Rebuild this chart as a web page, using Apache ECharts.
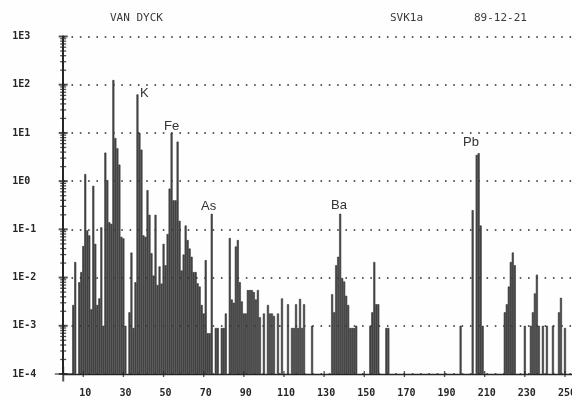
<!DOCTYPE html>
<html>
<head>
<meta charset="utf-8">
<script src="https://cdn.jsdelivr.net/npm/echarts@6.0.0/dist/echarts.min.js"></script>
<style>
  html, body { margin: 0; padding: 0; background: #fefefe; }
  #chart { width: 572px; height: 401px; }
</style>
</head>
<body>
<div id="chart"></div>
<script>
// Mass numbers (x) and measured intensities (log scale, y)
const masses = [
  5, 6, 8, 9, 10, 11, 12, 13, 14, 15, 16, 17, 18, 19, 20,
  21, 22, 23, 24, 25, 26, 27, 28, 29, 30, 31, 33, 34, 35, 36,
  37, 38, 39, 40, 41, 42, 43, 44, 45, 46, 47, 48, 49, 50,
  51, 52, 53, 54, 55, 56, 57, 58, 59, 60, 61, 62, 63, 64, 65,
  66, 67, 68, 69, 70, 71, 72, 73, 74, 76, 77, 79, 80, 81,
  83, 84, 85, 86, 87, 88, 89, 90, 91, 92, 93, 94, 95, 96, 97, 98,
  100, 102, 103, 104, 105, 107, 109, 112, 114, 115, 116, 117, 118, 119, 120, 124,
  134, 135, 136, 137, 138, 139, 140, 141, 142, 143, 144, 145, 146,
  153, 154, 155, 156, 157, 161, 162,
  198, 204, 206, 207, 208, 209,
  220, 221, 222, 223, 224, 225,
  230, 233, 234, 235, 236, 237, 239, 241, 244, 247, 248, 250
];
const intensity = [
  0.0027, 0.021, 0.008, 0.013, 0.045, 1.4, 0.095, 0.075, 0.0022, 0.8, 0.05, 0.0027, 0.0037, 0.11, 0.001,
  3.9, 1.05, 0.14, 0.13, 125, 7.8, 4.8, 2.2, 0.07, 0.065, 0.001, 0.0019, 0.033, 0.0009, 0.008,
  63, 10, 4.5, 0.075, 0.07, 0.65, 0.2, 0.032, 0.011, 0.2, 0.007, 0.017, 0.0075, 0.05,
  0.018, 0.08, 0.7, 10, 0.4, 0.4, 6.6, 0.15, 0.014, 0.03, 0.12, 0.06, 0.04, 0.027, 0.013,
  0.013, 0.0076, 0.0065, 0.0027, 0.0018, 0.023, 0.0007, 0.0007, 0.21, 0.0009, 0.0009, 0.0009, 0.0009, 0.0018,
  0.066, 0.0035, 0.003, 0.044, 0.06, 0.008, 0.0032, 0.0018, 0.0018, 0.0055, 0.0055, 0.0055, 0.005, 0.0035, 0.0055, 0.0015,
  0.0018, 0.0027, 0.0018, 0.0018, 0.0016, 0.0018, 0.0037, 0.0028, 0.0009, 0.0009, 0.0028, 0.0009, 0.0036, 0.0009, 0.0028, 0.001,
  0.0045, 0.0019, 0.018, 0.027, 0.21, 0.0098, 0.0083, 0.0042, 0.0027, 0.0009, 0.0009, 0.0009, 0.001,
  0.001, 0.0019, 0.021, 0.0028, 0.0028, 0.0009, 0.0009,
  0.001, 0.25, 3.5, 3.8, 0.12, 0.001,
  0.0019, 0.0028, 0.0065, 0.021, 0.033, 0.018,
  0.001, 0.001, 0.0019, 0.0047, 0.0115, 0.001, 0.001, 0.001, 0.001, 0.0019, 0.0038, 0.0009
];

// Axis ticks
const xTicks = [10, 30, 50, 70, 90, 110, 130, 150, 170, 190, 210, 230, 250];
const yExponents = [-4, -3, -2, -1, 0, 1, 2, 3];

// Element annotations
const elementNames = ['K', 'Fe', 'As', 'Ba', 'Pb'];
const elementPos = [[140, 87], [164, 120], [201, 200], [331, 199], [463, 136]];

// Header
const headerTexts = ['VAN DYCK', 'SVK1a', '89-12-21'];
const headerPos = [110, 390, 474];

const MONO = '"DejaVu Sans Mono", "Liberation Mono", monospace';
const INK = '#262626';

const barData = masses.map((m, i) => [m, intensity[i]]);

const majorTicks = yExponents.map(e => [0, Math.pow(10, e)]);
const minorTicks = [];
yExponents.slice(0, -1).forEach(e => {
  for (let k = 2; k <= 9; k++) minorTicks.push([0, k * Math.pow(10, e)]);
});
const xTickMarks = xTicks.map(v => [v, 1e-4]);

const chart = echarts.init(document.getElementById('chart'), null, { renderer: 'canvas' });

chart.setOption({
  backgroundColor: '#fefefe',
  animation: false,
  grid: {
    left: 63.2, top: 36.5, width: 509.8, height: 337.5,
    containLabel: false, outerBoundsMode: 'none'
  },
  xAxis: {
    type: 'value',
    min: 0,
    max: 254,
    axisLine: { show: true, onZero: false, lineStyle: { color: INK, width: 1.3 } },
    axisTick: { show: false },
    splitLine: { show: false },
    axisLabel: {
      customValues: xTicks,
      margin: 14,
      padding: [0, 0, 0, 4],
      hideOverlap: false,
      fontFamily: MONO,
      fontSize: 10,
      fontWeight: 'bold',
      color: INK
    }
  },
  yAxis: {
    type: 'log',
    logBase: 10,
    min: 1e-4,
    max: 1e3,
    startValue: 1e-4,
    axisLine: { show: true, lineStyle: { color: INK, width: 2 } },
    axisTick: { show: false },
    minorTick: { show: false },
    splitLine: {
      show: true,
      lineStyle: { color: '#2a2a2a', width: 1.6, type: [1.6, 6.7] }
    },
    axisLabel: {
      align: 'left',
      margin: 51,
      fontFamily: MONO,
      fontSize: 10,
      fontWeight: 'bold',
      color: INK,
      formatter: v => '1E' + Math.round(Math.log10(v))
    }
  },
  graphic: [
    ...headerTexts.map((t, i) => ({
      type: 'text', left: headerPos[i], top: 13,
      style: { text: t, font: '11px ' + MONO, fill: '#3a3a3a' }
    })),
    ...elementNames.map((t, i) => ({
      type: 'text', left: elementPos[i][0], top: elementPos[i][1],
      style: { text: t, font: '13px "Liberation Sans", Arial, sans-serif', fill: '#333' }
    }))
  ],
  series: [
    {
      type: 'bar',
      data: barData,
      barWidth: 2,
      itemStyle: { color: '#4e4e4e', borderColor: '#222', borderWidth: 0.5 },
      clip: true
    },
    {
      // major y-axis tick crosses
      type: 'scatter', data: majorTicks, symbol: 'rect', symbolSize: [9, 2],
      itemStyle: { color: INK }, clip: false, silent: true
    },
    {
      // minor y-axis tick crosses
      type: 'scatter', data: minorTicks, symbol: 'rect', symbolSize: [6, 1.3],
      itemStyle: { color: INK }, clip: false, silent: true
    },
    {
      // x-axis tick crosses
      type: 'scatter', data: xTickMarks, symbol: 'rect', symbolSize: [1.3, 6],
      itemStyle: { color: INK }, clip: false, silent: true
    },
    {
      // origin cross where the two axes meet
      type: 'scatter', data: [[0, 1e-4]], symbol: 'rect', symbolSize: [17, 1.3],
      itemStyle: { color: INK }, clip: false, silent: true
    },
    {
      type: 'scatter', data: [[0, 1e-4]], symbol: 'rect', symbolSize: [2, 15],
      itemStyle: { color: INK }, clip: false, silent: true
    }
  ]
});
</script>
</body>
</html>
